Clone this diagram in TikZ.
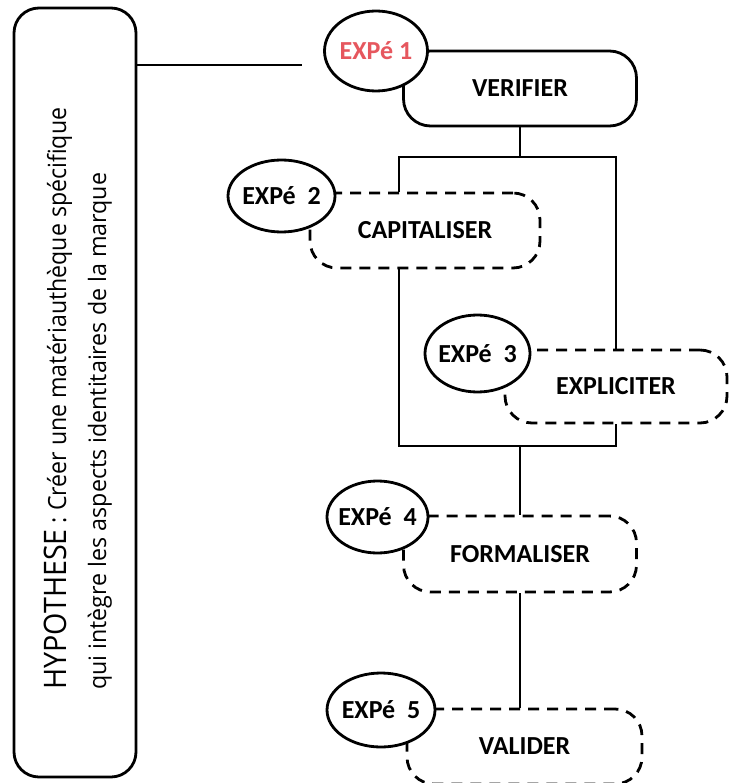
\documentclass[tikz,border=0pt]{standalone}
\usepackage{fontspec}
\setmainfont{Carlito}
\newfontfamily\hypfont{Open Sans}
\usetikzlibrary{shapes.geometric}
\definecolor{expred}{RGB}{230,87,94}
\tikzset{
  line/.style={line width=2.8pt},
  solidbox/.style={draw, line width=2.8pt, rounded corners=27pt, minimum width=233pt,
    minimum height=75pt, inner sep=0pt, font=\fontsize{26}{30}\selectfont\bfseries},
  dashbox/.style={solidbox, dash pattern=on 11pt off 8pt},
  expe/.style={draw, ellipse, fill=white, line width=2.8pt, inner sep=0pt,
    font=\fontsize{26}{30}\selectfont\bfseries},
  hyptext/.style={rotate=90, anchor=base west, inner sep=0pt, font=\hypfont},
}
\begin{document}
\begin{tikzpicture}[x=1pt,y=-1pt]
\useasboundingbox (0,0) rectangle (728,783);
% hypothesis box
\node[draw, line width=2.8pt, rounded corners=25pt, minimum width=122pt,
  minimum height=769pt, inner sep=0pt] (hyp) at (75,392.5) {};
\node[hyptext] (hypA) at (66,690) {\resizebox{582pt}{\height}{{\fontsize{31}{36}\selectfont HYPOTHESE}\fontsize{25}{30}\selectfont{} : Créer une matériauthèque spécifique}};
\node[hyptext] (hypB) at (106,690) {\resizebox{517pt}{\height}{\fontsize{24}{28}\selectfont qui intègre les aspects identitaires de la marque}};
% step boxes
\node[solidbox] (verif) at (520,88.5) {VERIFIER};
\node[dashbox, minimum width=230pt] (capit) at (425,230.5) {CAPITALISER};
\node[dashbox, minimum width=222pt, minimum height=73pt] (explic) at (616,386.5) {EXPLICITER};
\node[dashbox, minimum height=76pt] (formal) at (520,554) {FORMALISER};
\node[dashbox, minimum width=235pt] (valid) at (524.5,746.5) {VALIDER};
% connectors
\coordinate (hl) at (302,65);
\draw[line] (hyp.east |- hl) -- (hl);
\coordinate (j1) at (520,157);
\draw[line] (verif.south) -- (j1);
\coordinate (a1) at (399,157);
\draw[line] (capit.north -| a1) -- (a1) -- (a1 -| explic.north) -- (explic.north);
\coordinate (b1) at (399,446);
\draw[line] (capit.south -| b1) -- (b1) -- (b1 -| explic.south) -- (explic.south);
\draw[line] (formal.north) -- (formal.north |- b1);
\draw[line] (formal.south) -- (formal.south |- valid.north);
% experiment ellipses
\node[expe, minimum width=103pt, minimum height=80pt, text=expred] (e1) at (376,51) {\makebox[0pt]{EXPé 1}};
\node[expe, minimum width=107pt, minimum height=72pt] (e2) at (281.5,196) {\makebox[0pt]{EXPé\ \ 2}};
\node[expe, minimum width=105pt, minimum height=77pt] (e3) at (477.5,353.5) {\makebox[0pt]{EXPé\ \ 3}};
\node[expe, minimum width=101pt, minimum height=72pt] (e4) at (377.5,517) {\makebox[0pt]{EXPé\ \ 4}};
\node[expe, minimum width=108pt, minimum height=74pt] (e5) at (381,710) {\makebox[0pt]{EXPé\ \ 5}};
\end{tikzpicture}
\end{document}
